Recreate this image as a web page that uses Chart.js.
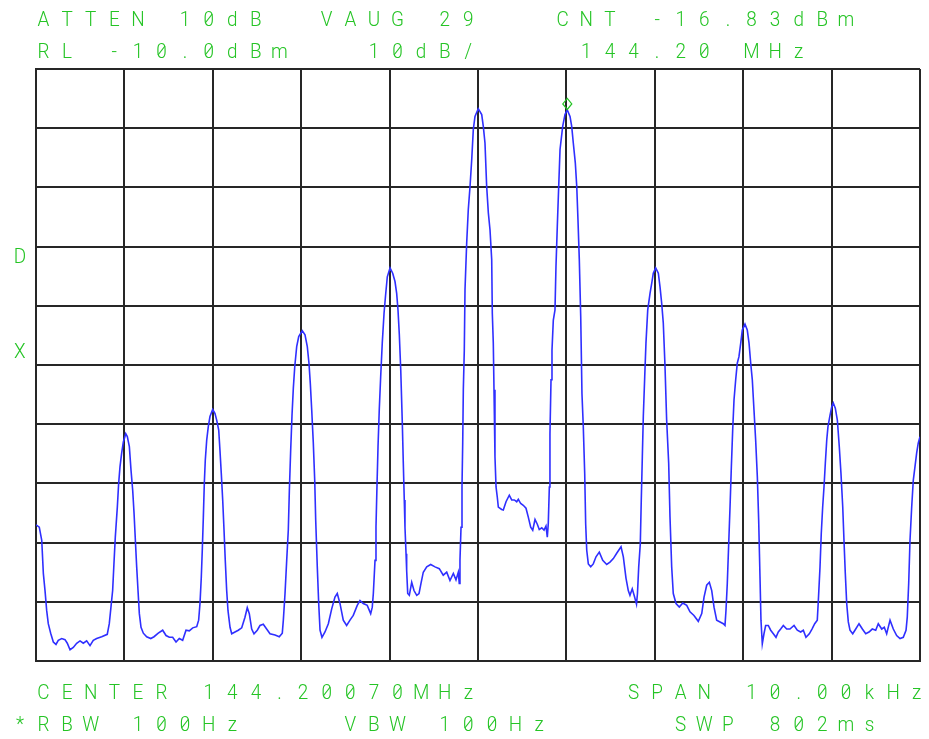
<!DOCTYPE html>
<html>
<head>
<meta charset="utf-8">
<script src="https://cdn.jsdelivr.net/npm/chart.js@4"></script>
<style>
  html, body { margin: 0; padding: 0; background: #ffffff; }
  #c { display: block; }
</style>
</head>
<body>
<canvas id="c" width="929" height="739"></canvas>
<script>
// Frequency offset from centre (kHz), centre = 144.20070 MHz, span 10 kHz
const freqOffsetKHz = [
-5.000,-4.963,-4.935,-4.917,-4.898,-4.879,-4.861,-4.834,-4.804,-4.774,
-4.748,-4.709,-4.672,-4.646,-4.615,-4.578,-4.540,-4.502,-4.465,-4.427,
-4.389,-4.352,-4.314,-4.257,-4.194,-4.171,-4.152,-4.133,-4.118,-4.103,
-4.080,-4.065,-4.050,-4.031,-4.012,-3.985,-3.967,-3.944,-3.925,-3.906,
-3.891,-3.876,-3.861,-3.846,-3.831,-3.812,-3.786,-3.748,-3.702,-3.665,
-3.617,-3.567,-3.529,-3.492,-3.454,-3.416,-3.379,-3.341,-3.303,-3.266,
-3.227,-3.182,-3.160,-3.145,-3.130,-3.119,-3.107,-3.096,-3.085,-3.069,
-3.051,-3.032,-3.001,-2.975,-2.956,-2.933,-2.919,-2.904,-2.888,-2.873,
-2.859,-2.843,-2.828,-2.805,-2.786,-2.749,-2.712,-2.673,-2.636,-2.610,
-2.587,-2.560,-2.534,-2.497,-2.466,-2.429,-2.391,-2.353,-2.296,-2.248,
-2.214,-2.202,-2.183,-2.164,-2.146,-2.134,-2.119,-2.104,-2.089,-2.073,
-2.051,-2.028,-1.988,-1.957,-1.931,-1.912,-1.897,-1.881,-1.863,-1.847,
-1.836,-1.818,-1.802,-1.787,-1.765,-1.731,-1.693,-1.655,-1.618,-1.592,
-1.561,-1.524,-1.486,-1.448,-1.411,-1.366,-1.335,-1.298,-1.253,-1.214,
-1.196,-1.184,-1.165,-1.154,-1.143,-1.131,-1.117,-1.101,-1.083,-1.063,
-1.046,-1.026,-0.995,-0.965,-0.939,-0.920,-0.905,-0.890,-0.874,-0.856,
-0.845,-0.834,-0.826,-0.814,-0.807,-0.795,-0.777,-0.750,-0.724,-0.693,
-0.667,-0.645,-0.619,-0.580,-0.535,-0.486,-0.438,-0.393,-0.354,-0.317,
-0.279,-0.249,-0.223,-0.212,-0.204,-0.192,-0.181,-0.173,-0.166,-0.155,
-0.147,-0.128,-0.110,-0.090,-0.071,-0.053,-0.034,0.003,0.042,0.060,
0.079,0.098,0.117,0.136,0.155,0.162,0.173,0.181,0.192,0.204,
0.218,0.230,0.268,0.286,0.317,0.354,0.381,0.411,0.438,0.456,
0.483,0.512,0.543,0.569,0.596,0.619,0.645,0.671,0.693,0.721,
0.747,0.769,0.784,0.795,0.807,0.814,0.826,0.837,0.852,0.871,
0.882,0.897,0.913,0.928,0.958,0.984,1.010,1.041,1.060,1.078,
1.101,1.117,1.131,1.146,1.162,1.176,1.191,1.207,1.218,1.230,
1.248,1.275,1.304,1.335,1.372,1.411,1.456,1.493,1.531,1.569,
1.618,1.644,1.674,1.700,1.719,1.745,1.770,1.793,1.804,1.818,
1.836,1.847,1.859,1.870,1.886,1.900,1.920,1.946,1.965,1.983,
2.010,2.040,2.059,2.078,2.096,2.115,2.134,2.157,2.172,2.191,
2.209,2.240,2.277,2.316,2.361,2.398,2.443,2.492,2.531,2.557,
2.587,2.617,2.644,2.670,2.700,2.738,2.775,2.794,2.805,2.820,
2.836,2.851,2.866,2.881,2.896,2.915,2.933,2.952,2.972,2.990,
3.020,3.046,3.066,3.085,3.103,3.122,3.141,3.160,3.175,3.190,
3.201,3.216,3.235,3.254,3.284,3.311,3.341,3.371,3.397,3.424,
3.454,3.492,3.529,3.575,3.612,3.650,3.680,3.710,3.748,3.778,
3.809,3.838,3.850,3.869,3.883,3.899,3.914,3.929,3.945,3.959,
3.982,4.001,4.019,4.042,4.065,4.087,4.106,4.126,4.140,4.155,
4.171,4.189,4.208,4.239,4.273,4.310,4.348,4.386,4.423,4.460,
4.499,4.528,4.567,4.596,4.623,4.661,4.698,4.736,4.774,4.811,
4.842,4.856,4.872,4.887,4.906,4.924,4.943,4.962,4.980,5.000
];

// Trace level (dBm)
const levelDbm = [
-87.0,-87.4,-89.6,-95.2,-98.1,-101.5,-103.7,-105.3,-106.8,-107.2,
-106.5,-106.2,-106.4,-107.0,-108.1,-107.7,-107.0,-106.6,-107.0,-106.6,
-107.4,-106.5,-106.2,-105.9,-105.5,-103.7,-100.9,-98.1,-93.5,-89.1,
-84.0,-80.0,-77.2,-74.9,-73.0,-71.6,-72.1,-73.8,-77.8,-81.2,
-85.0,-89.6,-94.1,-98.1,-102.0,-104.3,-105.3,-105.9,-106.2,-105.9,
-105.3,-104.8,-105.7,-106.0,-106.0,-106.8,-106.2,-106.5,-104.8,-104.9,
-104.4,-104.2,-103.1,-100.3,-95.8,-91.3,-85.7,-80.0,-76.1,-72.7,
-70.4,-68.7,-67.5,-68.2,-69.3,-71.0,-74.4,-78.3,-82.8,-87.9,
-93.0,-98.1,-101.5,-104.3,-105.4,-105.1,-104.8,-104.4,-102.6,-101.0,
-102.0,-104.6,-105.4,-104.8,-104.0,-103.8,-104.6,-105.4,-105.6,-105.9,
-105.3,-103.1,-98.6,-93.0,-87.9,-81.2,-74.4,-68.5,-63.9,-60.3,
-56.9,-55.2,-54.2,-54.9,-56.9,-59.7,-63.1,-67.6,-73.2,-79.5,
-86.2,-94.1,-100.3,-104.8,-106.0,-105.1,-103.7,-101.2,-99.2,-98.6,
-100.3,-103.1,-104.0,-103.1,-102.3,-100.6,-99.8,-100.3,-100.6,-102.0,
-100.9,-98.6,-93.0,-87.4,-80.6,-73.8,-67.6,-62.0,-56.3,-51.3,
-48.3,-45.1,-43.6,-44.5,-45.9,-47.9,-50.7,-54.9,-60.8,-69.9,
-76.6,-82.8,-87.4,-91.9,-94.7,-98.6,-98.9,-96.7,-98.1,-98.9,
-98.6,-96.9,-95.0,-94.1,-93.7,-94.1,-94.4,-95.5,-95.0,-96.4,
-95.2,-96.3,-95.0,-96.9,-93.0,-87.4,-80.6,-73.2,-64.2,-57.5,
-47.3,-39.4,-33.8,-29.8,-25.3,-20.2,-18.0,-16.7,-17.7,-19.7,
-22.5,-29.8,-34.3,-37.2,-42.2,-51.3,-56.3,-64.2,-75.5,-80.6,
-82.3,-84.0,-84.4,-84.5,-83.1,-82.0,-82.8,-82.8,-83.1,-82.7,
-83.4,-83.7,-84.2,-85.7,-87.4,-87.9,-86.1,-86.9,-87.8,-87.5,
-87.9,-87.2,-89.1,-86.8,-80.6,-71.6,-62.5,-57.5,-52.4,-50.7,
-43.4,-36.6,-29.8,-23.6,-19.7,-17.7,-16.9,-18.0,-19.7,-22.5,
-25.9,-29.8,-35.5,-42.2,-51.8,-64.8,-70.4,-78.3,-86.8,-91.3,
-93.6,-94.1,-93.6,-92.4,-91.6,-93.0,-93.7,-93.3,-92.7,-91.8,
-90.7,-92.4,-96.0,-98.1,-98.9,-97.8,-99.1,-100.4,-98.6,-94.1,
-90.2,-82.8,-75.5,-68.7,-62.0,-56.3,-50.7,-47.9,-46.2,-44.5,
-43.6,-44.5,-46.8,-49.6,-52.9,-60.0,-69.3,-76.6,-85.7,-94.1,
-98.6,-100.3,-100.9,-100.2,-100.6,-101.7,-102.3,-103.3,-102.0,-99.2,
-97.2,-96.7,-98.1,-100.9,-103.1,-103.4,-103.7,-104.0,-101.5,-96.9,
-90.2,-84.0,-77.2,-71.0,-65.9,-62.5,-59.7,-58.6,-56.3,-54.1,
-53.1,-54.1,-56.3,-59.7,-62.5,-67.6,-72.7,-78.9,-86.2,-95.8,
-103.1,-107.1,-105.4,-104.0,-104.0,-104.8,-105.4,-106.0,-105.1,-104.6,
-104.0,-104.6,-104.6,-104.0,-104.8,-105.1,-104.8,-106.0,-105.4,-104.6,
-103.7,-103.1,-99.8,-94.1,-88.5,-84.0,-80.6,-76.6,-72.7,-70.4,
-68.5,-67.1,-66.4,-67.3,-69.3,-73.8,-78.3,-84.0,-89.6,-95.2,
-100.3,-103.4,-104.8,-105.4,-104.6,-103.7,-104.6,-105.4,-105.1,-104.6,
-104.8,-103.7,-104.6,-104.3,-105.4,-103.1,-104.6,-105.7,-106.2,-106.0,
-104.8,-102.6,-96.9,-89.6,-84.0,-79.5,-77.2,-74.9,-73.2,-72.1
];

// Axis definition: reference level -10 dBm, 10 dB/div, 10 divisions; span 10 kHz
const refLevelDbm = -10;
const dbPerDiv = 10;
const spanKHz = 10;
const divisions = 10;

// Marker (CNT) position
const markerFreqKHz = [1.010];
const markerLevelDbm = [-16.83];

// Annotation text rows (character columns on a fixed pitch)
const headerRows = [
  { col: 0, text: 'ATTEN 10dB  VAUG 29   CNT -16.83dBm' },
  { col: 0, text: 'RL -10.0dBm   10dB/    144.20 MHz' }
];
const footerRows = [
  { col: 0, text: 'CENTER 144.20070MHz      SPAN 10.00kHz' },
  { col: -1, text: '*RBW 100Hz    VBW 100Hz     SWP 802ms' }
];
const sideLabels = ['D', 'X'];

const GREEN = '#25c425';
const GRID = '#262626';

const textPlugin = {
  id: 'hpText',
  afterDraw(chart) {
    const ctx = chart.ctx;
    ctx.save();
    ctx.fillStyle = GREEN;
    ctx.strokeStyle = GREEN;
    ctx.font = '300 21px Roboto';
    ctx.textAlign = 'center';
    ctx.textBaseline = 'alphabetic';
    const pitch = 23.6, x0 = 37, glyphHalf = 6.5;
    const drawRow = (row, baseline) => {
      for (let i = 0; i < row.text.length; i++) {
        const ch = row.text[i];
        if (ch === ' ') continue;
        const cx = x0 + (row.col + i) * pitch + glyphHalf;
        ctx.save();
        ctx.translate(cx, baseline);
        ctx.scale(0.9, 1);
        ctx.fillText(ch, 0, 0);
        ctx.restore();
        if (ch === '0') {
          // slashed zero, as on the analyser display
          ctx.lineWidth = 1.2;
          ctx.beginPath();
          ctx.moveTo(cx - 3.5, baseline - 3);
          ctx.lineTo(cx + 3.5, baseline - 12);
          ctx.stroke();
        }
      }
    };
    drawRow(headerRows[0], 26);
    drawRow(headerRows[1], 58);
    drawRow(footerRows[0], 699);
    drawRow(footerRows[1], 731);
    drawRow({ col: -1, text: sideLabels[0] }, 263);
    drawRow({ col: -1, text: sideLabels[1] }, 358);

    // marker diamond sitting on the marked peak
    const xs = chart.scales.x, ys = chart.scales.y;
    const mx = xs.getPixelForValue(markerFreqKHz[0]);
    const my = ys.getPixelForValue(markerLevelDbm[0]) - 5.5;
    ctx.lineWidth = 1.2;
    ctx.beginPath();
    ctx.moveTo(mx, my - 5.5);
    ctx.lineTo(mx + 4.5, my);
    ctx.lineTo(mx, my + 5.5);
    ctx.lineTo(mx - 4.5, my);
    ctx.closePath();
    ctx.stroke();
    ctx.restore();
  }
};

const points = freqOffsetKHz.map((f, i) => ({ x: f, y: levelDbm[i] }));

new Chart(document.getElementById('c'), {
  type: 'scatter',
  data: {
    datasets: [{
      data: points,
      showLine: true,
      borderColor: '#2f2fff',
      borderWidth: 1.6,
      pointRadius: 0,
      tension: 0,
      fill: false
    }]
  },
  options: {
    responsive: false,
    animation: false,
    layout: { padding: { left: 36, right: 9, top: 69, bottom: 78 } },
    plugins: { legend: { display: false }, tooltip: { enabled: false } },
    scales: {
      x: {
        type: 'linear',
        min: -spanKHz / 2,
        max: spanKHz / 2,
        ticks: { display: false, stepSize: spanKHz / divisions },
        grid: { color: GRID, lineWidth: 2, drawTicks: false },
        border: { display: true, color: GRID, width: 2 }
      },
      y: {
        type: 'linear',
        min: refLevelDbm - dbPerDiv * divisions,
        max: refLevelDbm,
        ticks: { display: false, stepSize: dbPerDiv },
        grid: { color: GRID, lineWidth: 2, drawTicks: false },
        border: { display: true, color: GRID, width: 2 }
      }
    }
  },
  plugins: [textPlugin]
});
</script>
</body>
</html>
